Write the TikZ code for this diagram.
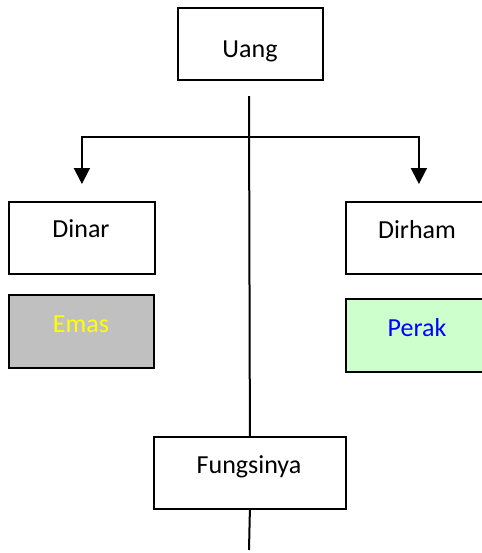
\documentclass[tikz,border=0pt]{standalone}
\usepackage{fontspec}
\setmainfont{Carlito}
\usetikzlibrary{arrows.meta,calc}

\begin{document}
\begin{tikzpicture}[x=0.5pt,y=-0.5pt,
  box/.style={draw=black,line width=0.9pt,inner sep=0pt,anchor=north west},
  lbl/.style={anchor=base,inner sep=0pt,font=\fontsize{13}{15}\selectfont},
  link/.style={line width=1pt,draw=black},
  pointer/.style={link,-{Triangle[width=8pt,length=8pt]},shorten >=8.5pt}]
  \useasboundingbox (0,0) rectangle (482,553);

  % boxes
  \node[box,minimum width=72.5pt,minimum height=36pt] (uang) at (177,7) {};
  \node[box,minimum width=73pt,minimum height=36pt] (dinar) at (8,201) {};
  \node[box,fill={rgb,255:red,192;green,192;blue,192},minimum width=72.5pt,minimum height=36.5pt] (emas) at (8,294) {};
  \node[box,minimum width=73pt,minimum height=36pt] (dirham) at (345,201) {};
  \node[box,fill={rgb,255:red,204;green,255;blue,204},minimum width=73pt,minimum height=36.5pt] (perak) at (345,298) {};
  \node[box,minimum width=96pt,minimum height=36pt] (fungsi) at (153,436) {};

  % labels
  \node[lbl] (tuang) at (250,57) {Uang};
  \node[lbl] (tdinar) at (81,237) {Dinar};
  \node[lbl,text={rgb,255:red,255;green,255;blue,0}] (temas) at (81,332) {Emas};
  \node[lbl] (tdirham) at (417,238) {Dirham};
  \node[lbl,text={rgb,255:red,0;green,0;blue,255}] (tperak) at (417,336) {Perak};
  \node[lbl] (tfungsi) at (249,473) {Fungsinya};

  % connectors
  \coordinate (stem) at (249,96);
  \coordinate (bar) at (249,137);
  \coordinate (foot) at (249,550);
  \draw[link] (stem) -- (fungsi.north);
  \draw[link] (fungsi.south) -- (foot);
  \draw[pointer] (bar) -| (dinar.north);
  \draw[pointer] (bar) -| (dirham.north);
\end{tikzpicture}
\end{document}
